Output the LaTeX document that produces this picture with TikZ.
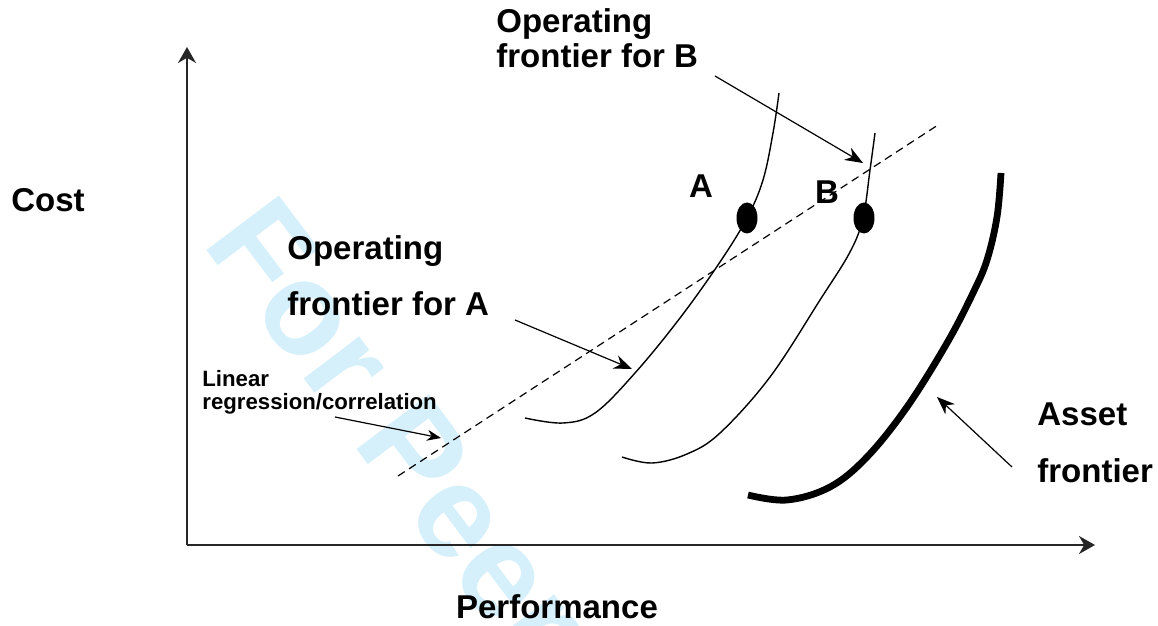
\documentclass[tikz,border=0pt]{standalone}
\usepackage{fontspec}
\setmainfont{Liberation Sans}
\usetikzlibrary{arrows.meta,shapes.geometric}
\definecolor{wmblue}{RGB}{214,240,251}
\begin{document}
\begin{tikzpicture}[x={(0.5pt,0)},y={(0,-0.5pt)}]
        \tikzset{
          biglabel/.style={anchor=base west,inner sep=0mm,font=\fontsize{16.5}{20}\selectfont\bfseries},
          smalllabel/.style={anchor=base west,inner sep=0mm,font=\fontsize{11.1}{13}\selectfont\bfseries},
          pointer/.style={black,line width=0.6pt,-{Stealth[length=9pt,width=7pt]}},
          opfront/.style={black,line width=0.7pt},
        }
        \useasboundingbox (0,0) rectangle (1158,626);
        %WATERMARK
        \node[wmblue,anchor=base west,inner sep=0mm,rotate=-53,font=\fontsize{66}{70}\selectfont\bfseries] (wm) at (201.6,242.8) {For Peer};
        %AXIS Y
        \draw[black!85,line width=1pt,-{Stealth[length=8pt,width=9pt]}] (187,545) -- (187,47);
        %AXIS X
        \draw[black!85,line width=1pt,-{Stealth[length=8pt,width=9pt]}] (187,545) -- (1095,545);
        \node[font=\fontsize{16.5}{20}\selectfont\bfseries,inner sep=0mm] (cost) at (48,200) {Cost};
        \node[font=\fontsize{16.5}{20}\selectfont\bfseries,inner sep=0mm,anchor=base] (perf) at (557,618) {Performance};

        %REGRESSION LINE
        \coordinate (reglo) at (398,476);
        \coordinate (reghi) at (938,125);
        \draw[black,line width=0.6pt,dash pattern=on 4pt off 2.6pt] (reglo) -- (reghi);

        %OPERATING FRONTIERS
        \draw[opfront] plot[smooth,tension=0.6] coordinates {(525,418) (563,423) (595,413) (635,373) (680,318) (720,262) (747,218) (763,180) (773,133) (779,93)};
        \draw[opfront] plot[smooth,tension=0.6] coordinates {(622,457) (652,463) (687,454) (720,433) (770,377) (820,300) (850,252) (863,218) (870,170) (875,133)};

        %ASSET FRONTIER
        \draw[black,line width=3.4pt] plot[smooth,tension=0.6] coordinates {(748,495) (787,500) (830,487) (867,457) (907,407) (947,343) (973,293) (987,260) (997,217) (1001,173)};

        \foreach \n/\x in {A/747,B/864}{
            \node[fill=black,ellipse,inner sep=0mm,minimum width=10.5pt,minimum height=15.5pt] (dot\n) at (\x,218) {};
        }
        \node[font=\fontsize{16.5}{20}\selectfont\bfseries,inner sep=0mm] (lblA) at (701,186) {A};
        \node[font=\fontsize{16.5}{20}\selectfont\bfseries,inner sep=0mm] (lblB) at (827,192) {B};

        %LABELS
        \node[biglabel] (opB1) at (496,33) {Operating};
        \node[biglabel] (opB2) at (496,68) {frontier for B};
        \node[biglabel] (opA1) at (287,259) {Operating};
        \node[biglabel] (opA2) at (287,315) {frontier for A};
        \node[smalllabel] (lin1) at (202,386) {Linear};
        \node[smalllabel] (lin2) at (202,409) {regression/correlation};
        \node[biglabel] (ast1) at (1037,425) {Asset};
        \node[biglabel] (ast2) at (1037,482) {frontier};

        %POINTERS
        \coordinate (pB0) at (715,76);
        \coordinate (pB1) at (863,163);
        \coordinate (pA0) at (515,320);
        \coordinate (pA1) at (632,369);
        \coordinate (pL0) at (335,417);
        \coordinate (pL1) at (441,438);
        \coordinate (pS0) at (1012,467);
        \coordinate (pS1) at (937,397);
        \draw[pointer] (pB0) -- (pB1);
        \draw[pointer] (pA0) -- (pA1);
        \draw[pointer,-{Stealth[length=7pt,width=5.5pt]}] (pL0) -- (pL1);
        \draw[pointer] (pS0) -- (pS1);
    \end{tikzpicture}
\end{document}
